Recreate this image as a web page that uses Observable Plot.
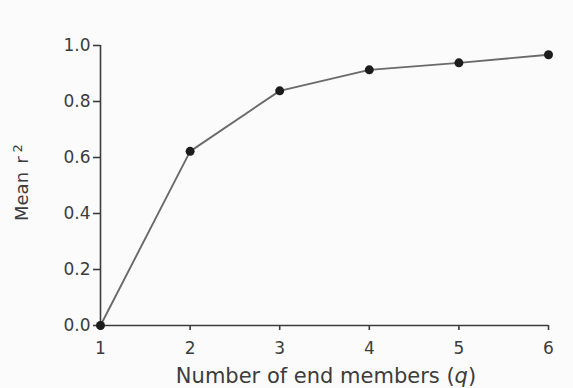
<!DOCTYPE html>
<html>
<head>
<meta charset="utf-8">
<script src="https://cdn.jsdelivr.net/npm/d3@7"></script>
<script src="https://cdn.jsdelivr.net/npm/@observablehq/plot@0.6"></script>
<style>
  html, body { margin: 0; padding: 0; background: #fbfbfb; }
  #chart svg { display: block; }
</style>
</head>
<body>
<div id="chart"></div>
<script>
// Mean r² against the number of end members q
const endMembers = [1, 2, 3, 4, 5, 6];
const meanR2 = [0.0, 0.622, 0.838, 0.913, 0.938, 0.967];
const xTicks = [1, 2, 3, 4, 5, 6];
const yTicks = [0, 0.2, 0.4, 0.6, 0.8, 1.0];

const data = endMembers.map((q, i) => ({q, r2: meanR2[i]}));

const ink = "#3c3c3c";

const chart = Plot.plot({
  width: 573,
  height: 388,
  marginLeft: 100,
  marginRight: 25,
  marginTop: 45,
  marginBottom: 63,
  style: {fontFamily: "'DejaVu Sans', sans-serif", fontSize: "17px", color: ink, background: "#fbfbfb"},
  x: {domain: [1, 6]},
  y: {domain: [0, 1]},
  marks: [
    Plot.ruleX([1], {stroke: ink, strokeWidth: 1.6}),
    Plot.ruleY([0], {stroke: ink, strokeWidth: 1.6}),
    Plot.axisX({ticks: xTicks, tickSize: 5, tickPadding: 11, tickFormat: d3.format("d"), label: null, stroke: ink, strokeWidth: 1.6}),
    Plot.axisY({ticks: yTicks, tickSize: 7, tickPadding: 3, tickFormat: d3.format(".1f"), label: null, stroke: ink, strokeWidth: 1.6}),
    Plot.line(data, {x: "q", y: "r2", stroke: "#6a6a6a", strokeWidth: 1.9}),
    Plot.dot(data, {x: "q", y: "r2", r: 4.5, fill: "#1c1c1c", stroke: "none"})
  ]
});

const svg = d3.select(chart);

// x axis title with italic q
const xt = svg.append("text")
  .attr("x", 326).attr("y", 383)
  .attr("text-anchor", "middle")
  .attr("fill", ink)
  .style("font-size", "21px");
xt.append("tspan").text("Number of end members (");
xt.append("tspan").attr("font-style", "italic").text("q");
xt.append("tspan").text(")");

// y axis title with superscript 2
const yt = svg.append("text")
  .attr("transform", "translate(28,221) rotate(-90)")
  .attr("text-anchor", "start")
  .attr("fill", ink)
  .style("font-size", "18px");
yt.append("tspan").text("Mean");
yt.append("tspan").attr("dx", "0.45em").text("r");
yt.append("tspan").attr("dy", "-0.5em").attr("dx", "0.3em").style("font-size", "13px").text("2");

document.getElementById("chart").appendChild(chart);
</script>
</body>
</html>
